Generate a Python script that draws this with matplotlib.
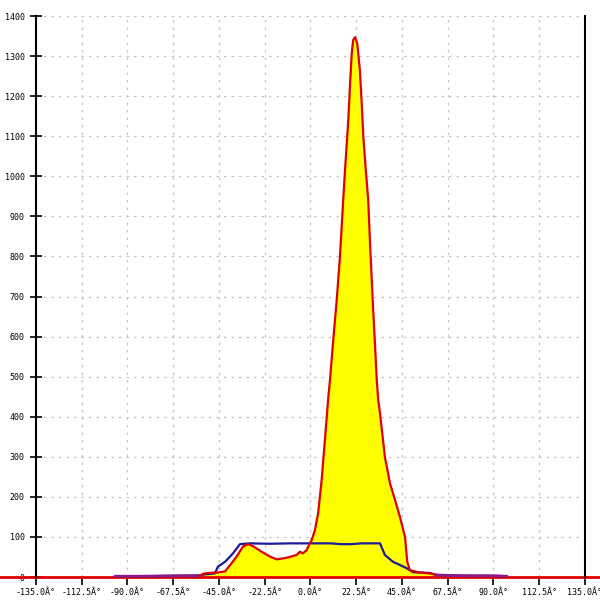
import numpy as np
import matplotlib
matplotlib.use('Agg')
import matplotlib.pyplot as plt

# red series (filled)
red_deg = [-96, -80, -65, -55, -52, -48, -46, -42, -39.5, -36.3, -33.2, -30.7, -28.3,
           -24, -19.9, -16.6, -11.7, -6.8, -5.2, -3.7, -1.9, -0.3, 0.6, 2.2, 3.8, 5.5,
           7.1, 8.8, 9.6, 11.2, 12.9, 14.5, 16.1, 17.0, 18.6, 19.4, 20.3, 21.0, 21.9,
           23.0, 24.3, 25.2, 26.0, 27.2, 28.4, 29.3, 30.6, 31.7, 32.6, 33.3, 34.2,
           36.6, 39.1, 41.6, 44.0, 46.5, 47.6, 48.9, 53.9, 58.8, 62.1, 75, 90, 96.5]
red_val = [2, 2, 3, 3, 9, 11, 11, 14, 30, 51, 76, 82, 77,
           63, 51, 44, 48, 55, 63, 59, 67, 84, 92, 117, 160, 242,
           342, 450, 492, 591, 691, 799, 941, 1016, 1140, 1224, 1307, 1340, 1347,
           1332, 1265, 1183, 1099, 1016, 941, 833, 691, 584, 492, 442, 409,
           300, 234, 192, 150, 100, 38, 17, 11, 9, 5, 3, 3, 2]

# blue series
blue_deg = [-96, -60, -54.3, -52.9, -47, -45.5, -42, -38.1, -34.7, -30, -20, -10, 0,
            10, 15, 20, 25, 34.2, 36.6, 40.6, 44.0, 47.3, 50.5, 58.8, 62, 75, 96.5]
blue_val = [2, 3, 4, 6, 9, 26, 38, 59, 82, 84, 83, 84, 84,
            84, 82, 82, 84, 84, 55, 38, 30, 22, 12, 10, 5, 3, 2]

xticks = [-135, -112.5, -90, -67.5, -45, -22.5, 0, 22.5, 45, 67.5, 90, 112.5, 135]
yticks = list(range(0, 1401, 100))

red = '#e00000'
blue = '#1a1a9c'

fig = plt.figure(figsize=(6, 6), dpi=100)
ax = fig.add_axes([0, 0.0383, 1, 0.935])
ax.set_xlim(-152.7, 142.4)
ax.set_ylim(0, 1400)

# grid
ax.hlines(yticks[1:], -135, 135, colors='#c4c4c4', linestyles=(0, (2, 4)), linewidth=0.9, zorder=0)
for x in xticks[1:-1]:
    ax.axvline(x, color='#c4c4c4', linestyle=(0, (2, 4)), linewidth=0.9, zorder=0)

ax.fill_between(red_deg, red_val, 0, color='#ffff00', linewidth=0, zorder=1)
ax.axhline(0, color=red, linewidth=2, clip_on=False, zorder=2)
ax.plot(blue_deg, blue_val, color=blue, linewidth=1.6, zorder=3)
ax.plot(red_deg, red_val, color=red, linewidth=1.6, zorder=4)
# overlapping tails look purple
rv = np.array(red_val, dtype=float)
ax.plot(red_deg, np.ma.masked_where(rv > 6, rv), color='#8a1a8a', linewidth=2, zorder=5, clip_on=False)

for s in ['top', 'bottom']:
    ax.spines[s].set_visible(False)
ax.spines['left'].set_position(('data', -135))
ax.spines['right'].set_position(('data', 135))
ax.spines['left'].set_linewidth(1.5)
ax.spines['right'].set_linewidth(1.5)

ax.set_xticks(xticks)
ax.set_xticklabels(['%.1fÂ°' % v for v in xticks])
ax.set_yticks(yticks)
ax.set_yticklabels([str(v) for v in yticks])
ax.tick_params(axis='y', direction='inout', length=8, width=1.2, pad=4,
               labelsize=6, labelfontfamily='DejaVu Sans Mono')
ax.tick_params(axis='x', direction='out', length=6, width=1.2, pad=2,
               labelsize=6, labelfontfamily='DejaVu Sans Mono')
ax.tick_params(axis='y', right=False)

fig.savefig('out.png', dpi=100)
